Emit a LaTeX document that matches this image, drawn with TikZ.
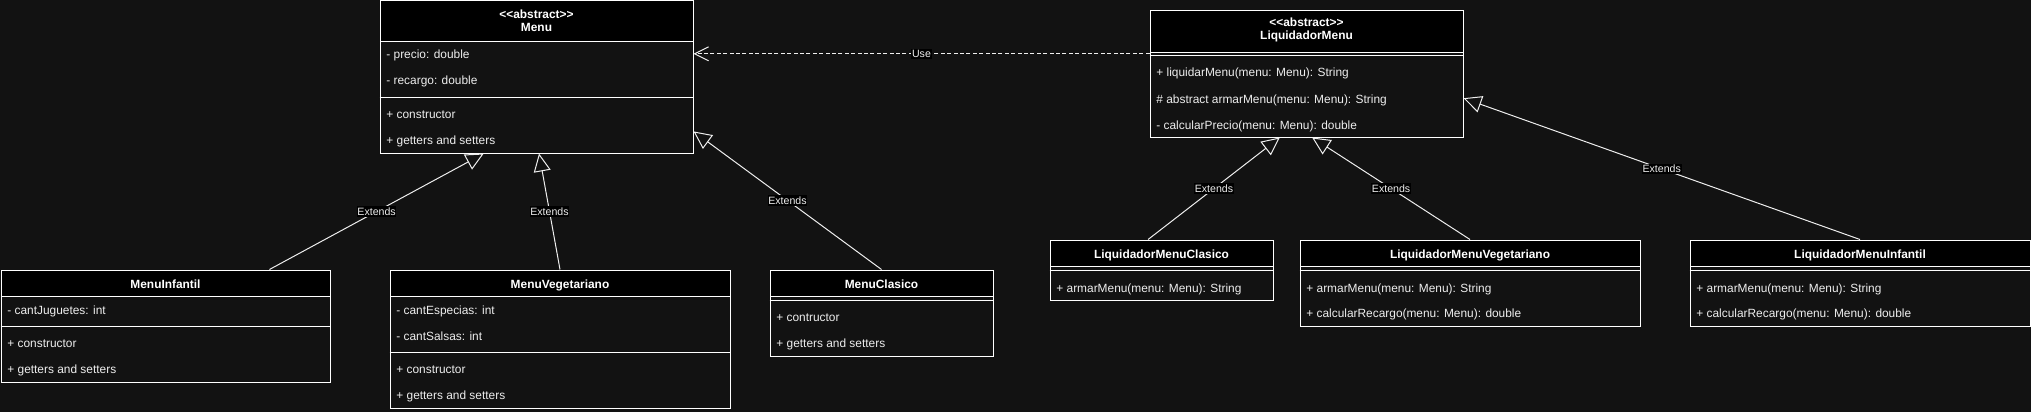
\documentclass[tikz,border=0pt]{standalone}
\usepackage{fontspec}
\setmainfont{Liberation Sans}
\usetikzlibrary{arrows.meta,calc,fit}
\definecolor{bg}{RGB}{18,18,18}
\definecolor{fg}{RGB}{238,238,238}
\newcommand{\clsfont}{\fontsize{5.95pt}{6.65pt}\selectfont}
\newcommand{\lblfont}{\fontsize{5.3pt}{6pt}\selectfont}
\begin{document}
\begin{tikzpicture}[x=0.5pt,y=-0.5pt,
  classbox/.style={draw=white, line width=0.5pt, inner sep=0pt, fill=bg},
  headbox/.style={draw=white, line width=0.5pt, inner sep=0pt, fill=black},
  title/.style={text=white, font=\clsfont\bfseries, align=center, inner sep=0pt},
  title1/.style={title, text height=4.25pt, text depth=0pt},
  row/.style={anchor=west, text=fg, font=\clsfont, inner sep=0pt, text height=4.25pt, text depth=0pt},
  sepline/.style={draw=white, line width=0.5pt},
  ext/.style={draw=fg, line width=0.5pt, -{Triangle[open,length=9pt,width=8.5pt]}},
  usearr/.style={draw=fg, line width=0.5pt, dash pattern=on 2pt off 1.2pt, -{Straight Barb[length=7pt,width=7pt]}},
  lbl/.style={fill=black, text=fg, font=\lblfont, inner xsep=0.3pt, inner ysep=0.6pt, solid},
]
\fill[bg] (0,0) rectangle (2031,412);
\useasboundingbox (0,0) rectangle (2031,412);

% ---------- Menu ----------
\node[classbox, fit={(380,0.5)(693,153)}] (menu) {};
\node[headbox, fit={(380,0.5)(693,41)}] (menuH) {};
\node[title] (menuT) at (536.5,20.7) {<\kern0pt<abstract>\kern0pt>\\Menu};
\draw[sepline] (menu.west |- 0,97) -- (menu.east |- 0,97);
\node[row] (menuA1) at (386,54.3) {- precio: double};
\node[row] (menuA2) at (386,80.7) {- recargo: double};
\node[row] (menuM1) at (386,114.7) {+ constructor};
\node[row] (menuM2) at (386,140.3) {+ getters and setters};

% ---------- LiquidadorMenu ----------
\node[classbox, fit={(1150,10)(1463,137)}] (liq) {};
\node[headbox, fit={(1150,10)(1463,52)}] (liqH) {};
\node[title] (liqT) at (1306.5,30.2) {<\kern0pt<abstract>\kern0pt>\\LiquidadorMenu};
\draw[sepline] (liq.west |- 0,55.5) -- (liq.east |- 0,55.5);
\node[row] (liqM1) at (1156,72.7) {+ liquidarMenu(menu: Menu): String};
\node[row] (liqM2) at (1156,99) {\# abstract armarMenu(menu: Menu): String};
\node[row] (liqM3) at (1156,125) {- calcularPrecio(menu: Menu): double};

% ---------- MenuInfantil ----------
\node[classbox, fit={(1,270)(330,382)}] (minf) {};
\node[headbox, fit={(1,270)(330,296)}] (minfH) {};
\node[title1] (minfT) at (165.5,284) {MenuInfantil};
\draw[sepline] (minf.west |- 0,326) -- (minf.east |- 0,326);
\node[row] (minfA1) at (7,310) {- cantJuguetes: int};
\node[row] (minfM1) at (7,343.3) {+ constructor};
\node[row] (minfM2) at (7,369.3) {+ getters and setters};

% ---------- MenuVegetariano ----------
\node[classbox, fit={(390,270)(730,408)}] (mveg) {};
\node[headbox, fit={(390,270)(730,296)}] (mvegH) {};
\node[title1] (mvegT) at (560,284) {MenuVegetariano};
\draw[sepline] (mveg.west |- 0,352) -- (mveg.east |- 0,352);
\node[row] (mvegA1) at (396,310) {- cantEspecias: int};
\node[row] (mvegA2) at (396,336) {- cantSalsas: int};
\node[row] (mvegM1) at (396,369.3) {+ constructor};
\node[row] (mvegM2) at (396,395.7) {+ getters and setters};

% ---------- MenuClasico ----------
\node[classbox, fit={(770,270)(993,356)}] (mcla) {};
\node[headbox, fit={(770,270)(993,296)}] (mclaH) {};
\node[title1] (mclaT) at (881.5,284) {MenuClasico};
\draw[sepline] (mcla.west |- 0,300) -- (mcla.east |- 0,300);
\node[row] (mclaM1) at (776,317.7) {+ contructor};
\node[row] (mclaM2) at (776,343.3) {+ getters and setters};

% ---------- LiquidadorMenuClasico ----------
\node[classbox, fit={(1050,240)(1273,300)}] (lcla) {};
\node[headbox, fit={(1050,240)(1273,266)}] (lclaH) {};
\node[title1] (lclaT) at (1161.5,254) {LiquidadorMenuClasico};
\draw[sepline] (lcla.west |- 0,270) -- (lcla.east |- 0,270);
\node[row] (lclaM1) at (1056,288.3) {+ armarMenu(menu: Menu): String};

% ---------- LiquidadorMenuVegetariano ----------
\node[classbox, fit={(1300,240)(1640,326)}] (lveg) {};
\node[headbox, fit={(1300,240)(1640,266)}] (lvegH) {};
\node[title1] (lvegT) at (1470,254) {LiquidadorMenuVegetariano};
\draw[sepline] (lveg.west |- 0,270) -- (lveg.east |- 0,270);
\node[row] (lvegM1) at (1306,288.3) {+ armarMenu(menu: Menu): String};
\node[row] (lvegM2) at (1306,313.3) {+ calcularRecargo(menu: Menu): double};

% ---------- LiquidadorMenuInfantil ----------
\node[classbox, fit={(1690,240)(2030,326)}] (linf) {};
\node[headbox, fit={(1690,240)(2030,266)}] (linfH) {};
\node[title1] (linfT) at (1860,254) {LiquidadorMenuInfantil};
\draw[sepline] (linf.west |- 0,270) -- (linf.east |- 0,270);
\node[row] (linfM1) at (1696,288.3) {+ armarMenu(menu: Menu): String};
\node[row] (linfM2) at (1696,313.3) {+ calcularRecargo(menu: Menu): double};

% ---------- connectors ----------
\draw[ext] ($(minf.north west)!0.815!(minf.north east)$) -- ($(menu.south west)!0.332!(menu.south east)$) node[lbl,pos=0.5] {Extends};
\draw[ext] (mveg.north) -- ($(menu.south west)!0.508!(menu.south east)$) node[lbl,pos=0.5] {Extends};
\draw[ext] (mcla.north) -- ($(menu.north east)!0.856!(menu.south east)$) node[lbl,pos=0.5] {Extends};
\draw[ext] ($(lcla.north west)!0.44!(lcla.north east)$) -- ($(liq.south west)!0.415!(liq.south east)$) node[lbl,pos=0.5] {Extends};
\draw[ext] (lveg.north) -- ($(liq.south west)!0.518!(liq.south east)$) node[lbl,pos=0.5] {Extends};
\draw[ext] (linf.north) -- ($(liq.north east)!0.693!(liq.south east)$) node[lbl,pos=0.5] {Extends};
\coordinate (useS) at ($(liq.north west)!0.346!(liq.south west)$);
\draw[usearr] (useS) -- (menu.east |- useS) node[lbl,pos=0.5] {Use};
\end{tikzpicture}
\end{document}
